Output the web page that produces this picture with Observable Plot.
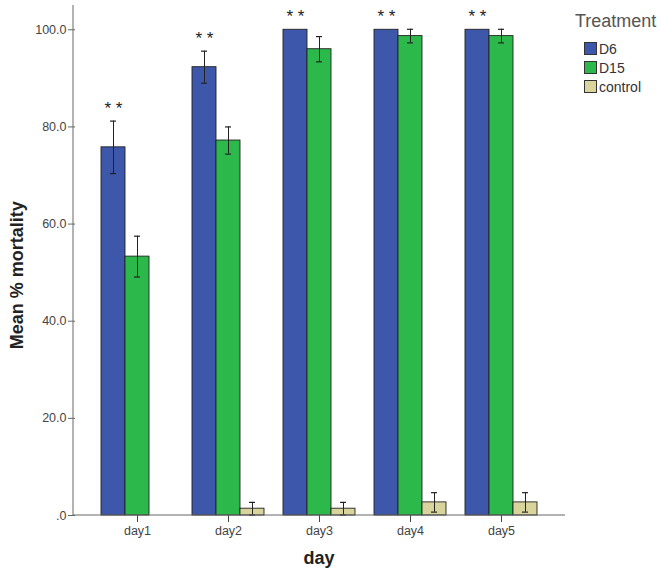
<!DOCTYPE html>
<html>
<head>
<meta charset="utf-8">
<script src="https://cdn.jsdelivr.net/npm/d3@7"></script>
<script src="https://cdn.jsdelivr.net/npm/@observablehq/plot@0.6"></script>
<style>
  body { margin: 0; background: #fff; font-family: "Liberation Sans", Arial, sans-serif; }
  #wrap { position: relative; width: 662px; height: 574px; }
  #legend { position: absolute; left: 575px; top: 11px; color: #555; }
  #legend .title { font-size: 18px; margin-bottom: 7px; }
  #legend .row { display: flex; align-items: center; font-size: 14px; color: #333; height: 19px; margin-left: 9px; }
  #legend .sw { width: 13px; height: 13px; border: 1px solid #333; margin-right: 2px; box-sizing: border-box; }
</style>
</head>
<body>
<div id="wrap"></div>
<script>
const days = ["day1", "day2", "day3", "day4", "day5"];
const treatments = ["D6", "D15", "control"];
const colors = ["#3d57ab", "#2db84b", "#d9d49b"];
const d6 = [75.8, 92.3, 100, 100, 100];
const d6Err = [5.4, 3.3, 0, 0, 0];
const d15 = [53.3, 77.2, 96.0, 98.7, 98.7];
const d15Err = [4.2, 2.8, 2.6, 1.4, 1.4];
const control = [0, 1.4, 1.4, 2.7, 2.7];
const controlErr = [0, 1.3, 1.3, 2.0, 2.0];
const yTicks = [0, 20, 40, 60, 80, 100];
const starLabel = "* *";

const series = {D6: [d6, d6Err], D15: [d15, d15Err], control: [control, controlErr]};
const data = [];
for (const t of treatments) {
  days.forEach((d, i) => data.push({day: d, treatment: t, value: series[t][0][i], err: series[t][1][i]}));
}
const errData = data.filter(r => r.err > 0);
const stars = data.filter(r => r.treatment === "D6");

const W = 662, H = 574;
const plot = Plot.plot({
  width: W, height: H,
  marginLeft: 73, marginRight: 97, marginTop: 5, marginBottom: 59,
  style: {fontFamily: "Liberation Sans, Arial, sans-serif", fontSize: "12.5px", color: "#444"},
  fx: {domain: days, paddingInner: 0.1826, paddingOuter: 0.2725, label: null, tickSize: 7, tickPadding: 4},
  x: {domain: treatments, padding: 0, axis: null},
  y: {domain: [0, 105], label: null},
  color: {domain: treatments, range: colors},
  marks: [
    Plot.axisY({ticks: yTicks, tickFormat: d => d === 0 ? ".0" : d.toFixed(1), label: null, tickSize: 7, tickPadding: 2, dx: -25, stroke: "#666", fill: "#444"}),
    Plot.barY(data, {fx: "day", x: "treatment", y: "value", fill: "treatment", stroke: "#222", strokeWidth: 0.9}),
    Plot.ruleX(errData, {fx: "day", x: "treatment", y1: d => d.value - d.err, y2: d => d.value + d.err, stroke: "#222", strokeWidth: 1}),
    Plot.tickY(errData, {fx: "day", x: "treatment", y: d => d.value + d.err, stroke: "#222", strokeWidth: 1.2, insetLeft: 9, insetRight: 9}),
    Plot.tickY(errData, {fx: "day", x: "treatment", y: d => d.value - d.err, stroke: "#222", strokeWidth: 1.2, insetLeft: 9, insetRight: 9}),
    Plot.text(stars, {fx: "day", x: "treatment", y: d => d.value + d.err, text: () => starLabel, dy: -13, fontSize: 17, fill: "#222"})
  ]
});
document.getElementById("wrap").appendChild(plot);

// axis lines and titles
const svg = d3.select(plot);
const ys = plot.scale("y");
svg.append("line").attr("x1", 73).attr("x2", 73).attr("y1", ys.apply(105)).attr("y2", ys.apply(0)).attr("stroke", "#666").attr("stroke-width", 1);
svg.append("line").attr("x1", 73).attr("x2", W - 97).attr("y1", ys.apply(0)).attr("y2", ys.apply(0)).attr("stroke", "#666").attr("stroke-width", 1);
svg.append("text").attr("x", (73 + W - 97) / 2).attr("y", 564).attr("text-anchor", "middle")
  .attr("font-size", 18).attr("font-weight", "bold").attr("fill", "#222").text("day");
svg.append("text").attr("transform", `translate(23,${(ys.apply(0) + ys.apply(100)) / 2 + 3}) rotate(-90)`).attr("text-anchor", "middle")
  .attr("font-size", 18).attr("font-weight", "bold").attr("fill", "#222").text("Mean % mortality");

// legend
const leg = d3.select("#wrap").append("div").attr("id", "legend");
leg.append("div").attr("class", "title").text("Treatment");
treatments.forEach((t, i) => {
  const row = leg.append("div").attr("class", "row");
  row.append("div").attr("class", "sw").style("background", colors[i]);
  row.append("span").text(t);
});
</script>
</body>
</html>
